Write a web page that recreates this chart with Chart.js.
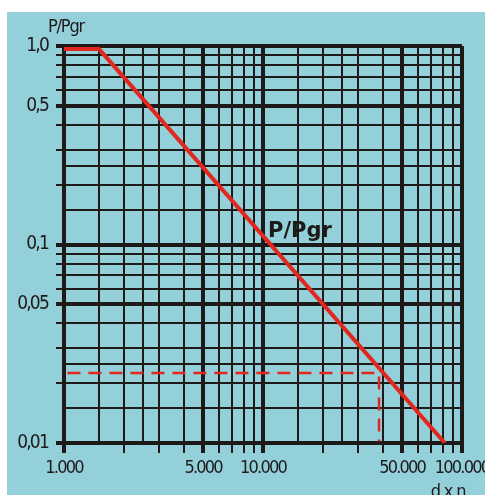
<!DOCTYPE html>
<html>
<head>
<meta charset="utf-8">
<script src="https://cdn.jsdelivr.net/npm/chart.js@4/dist/chart.umd.min.js"></script>
<style>
    html, body { margin: 0; padding: 0; background: #ffffff; }
    #wrap { position: relative; width: 485px; height: 495px; overflow: hidden; }
</style>
</head>
<body>
<div id="wrap"><canvas id="chart"></canvas></div>
<script>
// grid positions (d x n and P/Pgr)
const xTicks = [1000, 1500, 2000, 2500, 3000, 4000, 5000, 6000, 7000, 8000, 9000,
    10000, 15000, 20000, 25000, 30000, 40000, 50000, 60000, 70000, 80000, 90000, 100000];
const yTicks = [0.01, 0.015, 0.02, 0.025, 0.03, 0.04, 0.05, 0.06, 0.07, 0.08, 0.09,
    0.1, 0.15, 0.2, 0.25, 0.3, 0.4, 0.5, 0.6, 0.7, 0.8, 0.9, 1];

// labelled (thick) lines
const xMajor = [1000, 5000, 10000, 50000, 100000];
const xLabels = ['1.000', '5.000', '10.000', '50.000', '100.000'];
const yMajor = [0.01, 0.05, 0.1, 0.5, 1];
const yLabels = ['0,01', '0,05', '0,1', '0,5', '1,0'];

// half-step lines without a tick mark outside the grid
const xNoTick = [1500, 2500, 15000, 25000];
const yNoTick = [0.015, 0.025, 0.15, 0.25];

// P/Pgr curve
const curveX = [1000, 1500, 82000];
const curveY = [0.965, 0.965, 0.01];

// reading example (dashed)
const readX = [1040, 38300, 38300];
const readY = [0.0225, 0.0225, 0.0102];

const INK = '#1e1a1a';
const RED = '#e2271e';
const BLUE = '#93d0da';
const FONT = "'DejaVu Sans Condensed', 'DejaVu Sans', sans-serif";

const near = (a, b) => Math.abs(a - b) / b < 1e-6;
const isIn = (list, v) => list.some(m => near(m, v));

// narrow lettering, the original uses a condensed face
const tightText = chart => { chart.ctx.letterSpacing = '-1.8px'; };

const textPlugin = {
    id: 'chartText',
    beforeLayout: tightText,
    beforeDraw(chart) {
        const ctx = chart.ctx;
        tightText(chart);
        ctx.save();
        ctx.fillStyle = BLUE;
        ctx.fillRect(7, 12, chart.width - 7, chart.height - 12);
        ctx.restore();
    },
    afterDraw(chart) {
        const ctx = chart.ctx;
        ctx.save();
        ctx.fillStyle = INK;
        ctx.textAlign = 'center';
        ctx.textBaseline = 'alphabetic';
        ctx.letterSpacing = '-1.2px';
        ctx.font = '18px ' + FONT;
        ctx.fillText('P/Pgr', 66, 32);
        ctx.fillText('d x n', 448, 497);
        ctx.textAlign = 'left';
        ctx.letterSpacing = '0px';
        ctx.font = "bold 21px 'DejaVu Sans', sans-serif";
        ctx.fillText('P/Pgr', 268, 237);
        ctx.restore();
    }
};

const ctx = document.getElementById('chart').getContext('2d');
new Chart(ctx, {
    type: 'line',
    data: {
        datasets: [
            {
                label: 'P/Pgr',
                data: curveX.map((x, i) => ({ x: x, y: curveY[i] })),
                borderColor: RED,
                borderWidth: 4,
                pointRadius: 0,
                tension: 0,
                fill: false
            },
            {
                label: 'lettura',
                data: readX.map((x, i) => ({ x: x, y: readY[i] })),
                borderColor: RED,
                borderWidth: 2.5,
                borderDash: [13, 8],
                pointRadius: 0,
                tension: 0,
                fill: false
            }
        ]
    },
    options: {
        responsive: true,
        maintainAspectRatio: false,
        animation: false,
        layout: {
            padding: { top: 46, right: 23, left: 0, bottom: 0 }
        },
        plugins: {
            legend: { display: false },
            tooltip: { enabled: false }
        },
        scales: {
            x: {
                type: 'logarithmic',
                min: 1000,
                max: 100000,
                afterBuildTicks: scale => {
                    scale.ticks = xTicks.map(v => ({ value: v }));
                },
                afterFit: scale => {
                    scale.height = 52;
                    scale.paddingLeft = 0;
                    scale.paddingRight = 0;
                },
                border: { display: true, color: INK, width: 4 },
                grid: {
                    color: INK,
                    lineWidth: c => isIn(xMajor, c.tick.value) ? 4 : 2,
                    tickLength: 10,
                    tickColor: c => isIn(xNoTick, c.tick.value) ? 'rgba(0,0,0,0)' : INK,
                    tickWidth: c => isIn(xMajor, c.tick.value) ? 4 : 2
                },
                ticks: {
                    autoSkip: false,
                    maxRotation: 0,
                    padding: 5,
                    color: INK,
                    font: { family: FONT, size: 18 },
                    callback: v => {
                        const i = xMajor.findIndex(m => near(m, v));
                        return i >= 0 ? xLabels[i] : '';
                    }
                }
            },
            y: {
                type: 'logarithmic',
                min: 0.01,
                max: 1,
                afterBuildTicks: scale => {
                    scale.ticks = yTicks.map(v => ({ value: v }));
                },
                afterFit: scale => {
                    scale.width = 64;
                    scale.paddingTop = 0;
                    scale.paddingBottom = 0;
                },
                border: { display: true, color: INK, width: 4 },
                grid: {
                    color: INK,
                    lineWidth: c => isIn(yMajor, c.tick.value) ? 4 : 2,
                    tickLength: 8,
                    tickColor: c => isIn(yNoTick, c.tick.value) ? 'rgba(0,0,0,0)' : INK,
                    tickWidth: c => isIn(yMajor, c.tick.value) ? 4 : 2
                },
                ticks: {
                    autoSkip: false,
                    padding: 8,
                    color: INK,
                    font: { family: FONT, size: 19 },
                    callback: v => {
                        const i = yMajor.findIndex(m => near(m, v));
                        return i >= 0 ? yLabels[i] : '';
                    }
                }
            }
        }
    },
    plugins: [textPlugin]
});
</script>
</body>
</html>
